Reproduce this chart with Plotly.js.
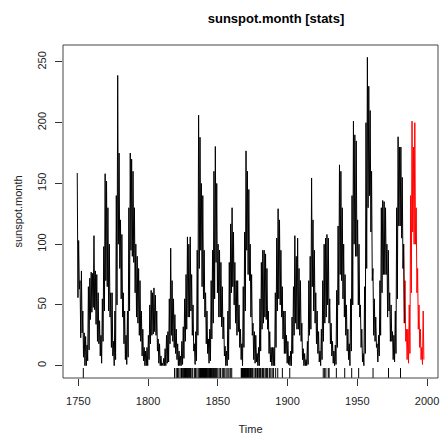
<!DOCTYPE html>
<html>
<head>
<meta charset="utf-8">
<script src="https://cdn.plot.ly/plotly-3.0.1.min.js"></script>
<style>html,body{margin:0;padding:0;background:#fff;}#chart{width:441px;height:435px;}</style>
</head>
<body>
<div id="chart"></div>
<script>
// sunspots (black): two readings per year (upper, lower), 1749 .. 1983
const sunspotsStart = 1749;
const readingsPerYear = 2;
const sunspots = [
158.6,56, 103,63, 70,23, 78,27, 45,7, 27,0, 24,0, 17,4, 65,13, 72,38,
77,44, 76,48, 107,46, 78,34, 75,20, 60,18, 37,8, 25,2, 55,20, 98,45,
158,70, 152,65, 130,45, 100,40, 60,15, 60,8, 20,0, 45,5, 140,50, 238.9,100,
175,80, 120,55, 108,40, 60,18, 45,5, 25,1, 45,7, 130,45, 175,95, 170,90,
160,85, 130,60, 100,40, 90,35, 80,25, 70,20, 45,8, 30,4, 15,0, 12,0,
15,0, 25,5, 50,18, 62,25, 60,26, 64,28, 58,25, 45,12, 22,2, 18,0,
8,0, 2,0, 6,0, 14,0, 25,2, 28,3, 55,18, 96.7,25, 70,20, 55,15,
42,10, 30,5, 18,0, 12,0, 8,0, 20,1, 32,6, 55,20, 75,30, 106,40,
100,40, 106,45, 75,25, 50,12, 18,1, 28,4, 95,25, 206.2,80, 188,95, 150,65,
140,55, 95,40, 60,18, 45,10, 22,2, 30,4, 70,22, 95,35, 160,55, 180.4,85,
150,60, 100,40, 95,40, 85,32, 65,22, 40,8, 16,0, 12,0, 45,5, 85,30,
116.7,60, 130,65, 110,50, 85,35, 70,25, 70,28, 50,15, 30,5, 18,0, 65,15,
110,45, 176.8,95, 160,75, 145,70, 100,40, 75,25, 35,5, 28,2, 25,3, 10,0,
15,0, 55,12, 85,30, 95,35, 95,40, 92,38, 80,30, 45,10, 28,3, 15,0,
15,0, 15,0, 60,15, 105,45, 129.2,55, 120,50, 95,40, 65,22, 45,10, 45,10,
25,2, 20,1, 8,0, 12,0, 40,10, 65,25, 107,35, 90,30, 105,30, 80,25,
70,20, 35,5, 14,0, 10,0, 5,0, 20,1, 70,25, 90,30, 154.5,65, 120,45,
95,35, 60,18, 45,10, 28,3, 12,0, 30,5, 70,20, 100,35, 105,40, 108,50,
105,35, 55,18, 35,8, 20,2, 12,0, 17,1, 62,15, 115,50, 165.3,75, 160,70,
130,55, 100,40, 75,25, 50,12, 30,5, 18,0, 55,12, 140,50, 201.3,100, 190,90,
185,90, 120,50, 100,40, 50,15, 30,3, 10,0, 65,10, 200,80, 253.8,130, 230,140,
210,110, 160,70, 80,25, 55,20, 40,15, 18,3, 25,8, 70,25, 130,60, 136,75,
135,75, 130,75, 100,40, 95,45, 60,20, 50,20, 28,5, 25,3, 45,10, 130,55,
188.4,115, 180,115, 180,105, 155,80, 100,35
];

// sunspot.month (red) where it extends beyond sunspots: 1983 .. 1997
const monthStart = 1983;
const sunspotMonth = [
100,35, 70,20, 30,5, 30,2, 50,10, 140,60, 201.3,110, 180,100, 200,100, 130,60,
80,30, 50,15, 30,5, 15,1, 45,5
];

// times where sunspots and sunspot.month differ (rug)
const rugTimes = [
1753.6,
1819.0,1820.2,1821.1,1822.0,1823.0,1824.0,1824.8,1825.5,
1826.0,1826.3,1826.6,1826.9,1827.3,1827.7,1828.0,1828.4,1828.8,1829.2,1829.6,1830.0,1830.5,1830.9,
1832.0,1833.2,1834.0,1835.0,1836.0,
1837.0,1837.3,1837.6,1837.9,1838.2,1838.5,1838.8,1839.1,1839.4,1839.7,1840.0,1840.3,1840.6,1840.9,
1841.2,1841.5,1841.8,1842.1,1842.5,1843.0,1843.5,1844.0,1844.4,1844.8,1845.2,1845.6,1846.0,1846.5,
1847.0,1847.5,1848.0,1848.5,1849.0,
1850.0,1851.0,1852.0,1853.2,1854.0,1855.0,1856.0,1857.2,1858.0,1859.0,1860.0,
1866.8,1867.1,1867.4,1867.7,1868.0,1868.3,1868.6,1868.9,1869.2,1869.5,1869.8,1870.1,1870.5,1870.9,
1871.3,1871.7,1872.1,1872.5,1873.0,1873.5,1874.0,1874.5,1875.0,
1876.0,1877.0,1878.0,1878.5,1879.0,1880.0,1880.5,1881.0,1882.0,1882.5,1883.0,1884.0,1884.8,1885.3,
1885.8,1887.0,1888.0,1889.0,1890.0,1891.5,1893.0,1896.3,
1901.6,1925.6,1926.6,1927.5,1929.2,1929.8,1935.0,1941.0,1946.0,1951.0,1961.3,1972.4,1981.0
];

const xTicks = [1750, 1800, 1850, 1900, 1950, 2000];
const yTicks = [0, 50, 100, 150, 200, 250];

function timesFor(start, n) {
  const t = [];
  for (let i = 0; i < n; i++) t.push(start + (i + 0.5) / readingsPerYear);
  return t;
}

const rugX = [], rugY = [];
rugTimes.forEach(function (t) { rugX.push(t, t, null); rugY.push(0, 0.03, null); });

const font = 'Liberation Sans, Arial, Helvetica, sans-serif';

const traces = [
  {x: timesFor(monthStart, sunspotMonth.length), y: sunspotMonth, type: 'scatter', mode: 'lines',
   line: {color: '#ff0000', width: 1}, hoverinfo: 'skip'},
  {x: timesFor(sunspotsStart, sunspots.length), y: sunspots, type: 'scatter', mode: 'lines',
   line: {color: '#000000', width: 1}, hoverinfo: 'skip'},
  {x: rugX, y: rugY, yaxis: 'y2', type: 'scatter', mode: 'lines',
   line: {color: '#000000', width: 1}, hoverinfo: 'skip'}
];

const layout = {
  width: 441, height: 435,
  margin: {l: 63, r: 3, t: 45, b: 57, pad: 0},
  paper_bgcolor: '#fff', plot_bgcolor: '#fff',
  showlegend: false,
  font: {family: font, size: 11, color: '#000'},
  title: {text: 'sunspot.month [stats]', font: {family: font, size: 13, color: '#000', weight: 'bold'},
          x: 0.568, xref: 'paper', xanchor: 'center', y: 0.957, yref: 'container', yanchor: 'middle'},
  xaxis: {range: [1739.04, 2007.87], tickvals: xTicks, ticktext: xTicks.map(String),
          ticks: 'outside', ticklen: 7, tickwidth: 1, tickcolor: '#333', showgrid: false,
          zeroline: false, showline: false, ticklabelstandoff: 6, tickfont: {size: 11, color: '#222'},
          title: {text: 'Time', font: {size: 11, color: '#222'}, standoff: 19}},
  yaxis: {range: [-10.15, 263.96], tickvals: yTicks, ticktext: yTicks.map(String),
          ticks: 'outside', ticklen: 7, tickwidth: 1, tickcolor: '#333', showgrid: false,
          zeroline: false, showline: false, tickangle: -90, ticklabelstandoff: 5,
          tickfont: {size: 11, color: '#222'},
          title: {text: 'sunspot.month', font: {size: 11, color: '#222'}, standoff: 10}},
  yaxis2: {range: [0, 1], overlaying: 'y', visible: false, fixedrange: true},
  shapes: [{type: 'rect', xref: 'paper', yref: 'paper', x0: 0, x1: 1, y0: 0, y1: 1,
            line: {color: '#444', width: 1}}]
};

Plotly.newPlot('chart', traces, layout, {staticPlot: true, displayModeBar: false});
</script>
</body>
</html>
